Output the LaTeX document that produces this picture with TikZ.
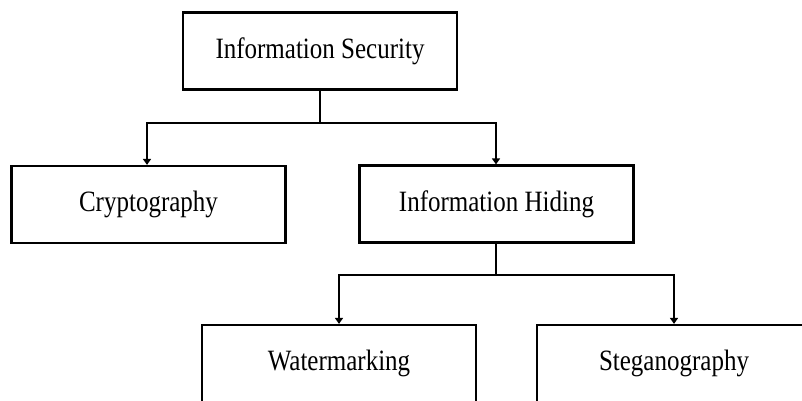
\documentclass[tikz,border=0pt]{standalone}
\usepackage{fontspec}
\setmainfont{Liberation Serif}
\usetikzlibrary{arrows.meta}
\begin{document}
\begin{tikzpicture}[x=1pt,y=-1pt,
  box/.style={draw=black,line width=2.2pt,minimum width=274pt,minimum height=77pt,inner sep=0pt,
    font=\fontsize{25pt}{30pt}\selectfont},
  conn/.style={line width=2.2pt},
  arr/.style={line width=2.2pt,-{Triangle[width=8pt,length=6pt]}}]
\useasboundingbox (0,0) rectangle (802,400);
\clip (0,0) rectangle (802,400);
\node[box] (is) at (320,51) {\scalebox{1}[1.18]{Information Security}};
\node[box] (cr) at (148.5,204.5) {\scalebox{1}[1.18]{Cryptography}};
\node[box] (ih) at (496.5,204) {\scalebox{1}[1.18]{Information Hiding}};
\node[box] (wm) at (339,363.5) {\scalebox{1}[1.18]{Watermarking}};
\node[box] (st) at (674,363.5) {\scalebox{1}[1.18]{Steganography}};
\coordinate (j1) at (320,123);
\coordinate (j2) at (496,275);
\draw[conn] (is.south) -- (j1);
\draw[arr] (j1) -| ([xshift=-1.5pt]cr.north);
\draw[arr] (j1) -| ([xshift=-0.5pt]ih.north);
\draw[conn] ([xshift=-0.5pt]ih.south) -- (j2);
\draw[arr] (j2) -| (wm.north);
\draw[arr] (j2) -| (st.north);
\end{tikzpicture}
\end{document}
